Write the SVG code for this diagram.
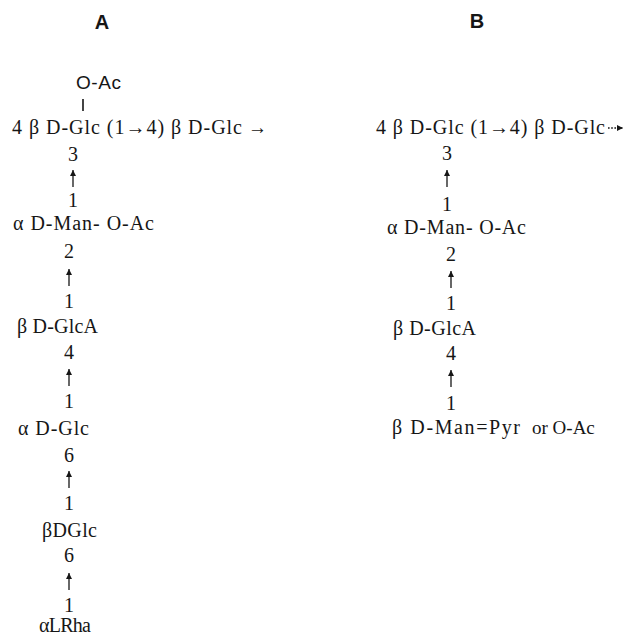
<svg xmlns="http://www.w3.org/2000/svg" width="625" height="637" viewBox="0 0 625 637">
  <style>
    .t { font-family: "Liberation Serif", "Times New Roman", serif; font-size: 20px; fill: #161616; }
    .s { font-family: "Liberation Sans", Arial, sans-serif; font-size: 19px; fill: #161616; }
    .h { font-family: "Liberation Sans", Arial, sans-serif; font-size: 20px; font-weight: bold; fill: #161616; text-anchor: middle; }
    .n { text-anchor: middle; }
    .lk { stroke: #161616; stroke-width: 1.3; fill: none; marker-end: url(#ah); }
    .dt { stroke: #161616; stroke-width: 1.3; fill: none; stroke-dasharray: 1.6 1.6; marker-end: url(#ah); }
    .bar { stroke: #161616; stroke-width: 1.6; }
  </style>
  <defs>
    <marker id="ah" markerUnits="userSpaceOnUse" markerWidth="7" markerHeight="7" refX="6" refY="3" orient="auto">
      <path d="M0,0 L6,3 L0,6 z" fill="#161616"/>
    </marker>
  </defs>

  <!-- panel titles -->
  <text class="h" x="102" y="29">A</text>
  <text class="h" x="477" y="28">B</text>

  <!-- ===== structure A ===== -->
  <g id="a-oac">
    <text class="s" x="76" y="89" textLength="45">O-Ac</text>
    <line class="bar" x1="83" y1="99" x2="83" y2="111"/>
  </g>
  <g id="a-backbone">
    <text class="t" x="12" y="134" textLength="230" lengthAdjust="spacing">4 β D-Glc (1→4) β D-Glc</text>
    <text class="t" x="248" y="134" textLength="19" lengthAdjust="spacingAndGlyphs">→</text>
  </g>
  <g id="a-man">
    <text class="t" x="13" y="230" textLength="141" lengthAdjust="spacing">α D-Man- O-Ac</text>
  </g>
  <g id="a-glca">
    <text class="t" x="17" y="333" textLength="81" lengthAdjust="spacing">β D-GlcA</text>
  </g>
  <g id="a-glc">
    <text class="t" x="18" y="435" textLength="71" lengthAdjust="spacing">α D-Glc</text>
  </g>
  <g id="a-bglc">
    <text class="t" x="42" y="537" textLength="55" lengthAdjust="spacing">βDGlc</text>
  </g>
  <g id="a-rha">
    <text class="t" x="39" y="632" textLength="52" lengthAdjust="spacing">αLRha</text>
  </g>

  <!-- ===== structure B ===== -->
  <g id="b-backbone">
    <text class="t" x="376" y="134" textLength="229" lengthAdjust="spacing">4 β D-Glc (1→4) β D-Glc</text>
  </g>
  <g id="b-man">
    <text class="t" x="387" y="234" textLength="139" lengthAdjust="spacing">α D-Man- O-Ac</text>
  </g>
  <g id="b-glca">
    <text class="t" x="393" y="335" textLength="83" lengthAdjust="spacing">β D-GlcA</text>
  </g>
  <g id="b-man-pyr">
    <text class="t" x="392" y="434" textLength="128" lengthAdjust="spacing">β D-Man=Pyr</text>
    <text class="t" x="532" y="434" style="font-size:19px">or O-Ac</text>
  </g>

  <!-- glycosidic links: position numbers and arrows -->
  <g id="connectors">
    <!-- A -->
    <g id="a-l1">
      <text class="t n" x="73" y="161">3</text>
      <line class="lk" x1="73" y1="187" x2="73" y2="170"/>
      <text class="t n" x="73" y="207">1</text>
    </g>
    <g id="a-l2">
      <text class="t n" x="69" y="258">2</text>
      <line class="lk" x1="69" y1="286" x2="69" y2="269"/>
      <text class="t n" x="69" y="308">1</text>
    </g>
    <g id="a-l3">
      <text class="t n" x="69" y="359">4</text>
      <line class="lk" x1="69" y1="386" x2="69" y2="369"/>
      <text class="t n" x="69" y="408">1</text>
    </g>
    <g id="a-l4">
      <text class="t n" x="69" y="462">6</text>
      <line class="lk" x1="69" y1="488" x2="69" y2="471"/>
      <text class="t n" x="69" y="510">1</text>
    </g>
    <g id="a-l5">
      <text class="t n" x="69" y="562">6</text>
      <line class="lk" x1="69" y1="590" x2="69" y2="573"/>
      <text class="t n" x="69" y="612">1</text>
    </g>
    <!-- B -->
    <g id="b-chain">
      <line class="dt" x1="608" y1="128" x2="623" y2="128"/>
    </g>
    <g id="b-l1">
      <text class="t n" x="447" y="160">3</text>
      <line class="lk" x1="447" y1="187" x2="447" y2="170"/>
      <text class="t n" x="447" y="211">1</text>
    </g>
    <g id="b-l2">
      <text class="t n" x="451" y="261">2</text>
      <line class="lk" x1="451" y1="288" x2="451" y2="271"/>
      <text class="t n" x="451" y="310">1</text>
    </g>
    <g id="b-l3">
      <text class="t n" x="451" y="360">4</text>
      <line class="lk" x1="451" y1="387" x2="451" y2="370"/>
      <text class="t n" x="451" y="410">1</text>
    </g>
  </g>
</svg>
